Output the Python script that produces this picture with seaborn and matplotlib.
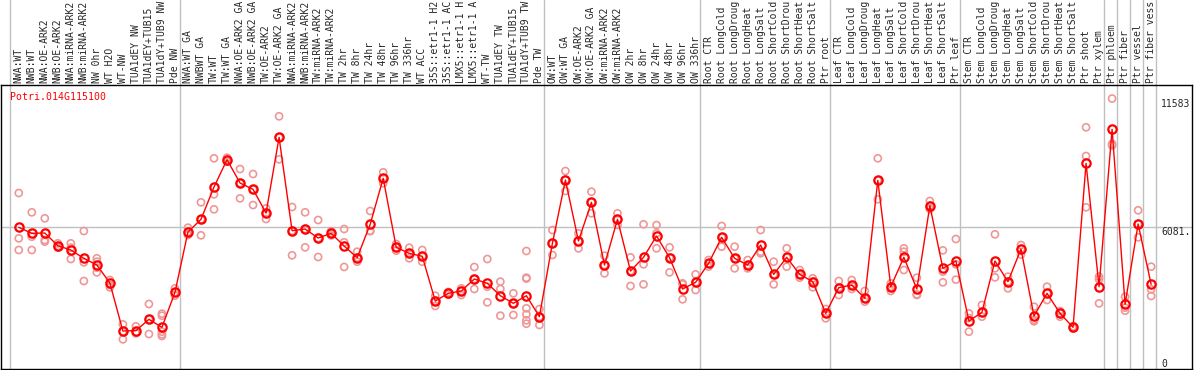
import matplotlib
matplotlib.use("Agg")
import matplotlib.pyplot as plt
import matplotlib.transforms as mtransforms
import seaborn as sns
import pandas as pd

# sample names, in plotting order
samples = [
    "NWA:WT", "NWB:WT", "NWA:OE-ARK2", "NWB:OE-ARK2", "NWA:miRNA-ARK2", "NWB:miRNA-ARK2",
    "NW 0hr", "WT H2O", "WT-NW", "TUA1dEY NW", "TUA1dEY+TUB15 NW", "TUA1dY+TUB9 NW", "Pde NW",
    "NWA:WT GA", "NWBWT GA", "TW:WT", "TW:WT GA", "NWA:OE-ARK2 GA", "NWB:OE-ARK2 GA",
    "TW:OE-ARK2", "TW:OE-ARK2 GA", "NWA:miRNA-ARK2", "NWB:miRNA-ARK2", "TW:miRNA-ARK2",
    "TW:miRNA-ARK2", "TW 2hr", "TW 8hr", "TW 24hr", "TW 48hr", "TW 96hr", "TW 336hr",
    "WT ACC", "35S::etr1-1 H2O", "35S::etr1-1 ACC", "LMX5::etr1-1 H2O", "LMX5::etr1-1 ACC",
    "WT-TW", "TUA1dEY TW", "TUA1dEY+TUB15 TW", "TUA1dY+TUB9 TW", "Pde TW",
    "OW:WT", "OW:WT GA", "OW:OE-ARK2", "OW:OE-ARK2 GA", "OW:miRNA-ARK2", "OW:miRNA-ARK2",
    "OW 2hr", "OW 8hr", "OW 24hr", "OW 48hr", "OW 96hr", "OW 336hr",
    "Root CTR", "Root LongCold", "Root LongDrought", "Root LongHeat", "Root LongSalt",
    "Root ShortCold", "Root ShortDrought", "Root ShortHeat", "Root ShortSalt", "Ptr root",
    "Leaf CTR", "Leaf LongCold", "Leaf LongDrought", "Leaf LongHeat", "Leaf LongSalt",
    "Leaf ShortCold", "Leaf ShortDrought", "Leaf ShortHeat", "Leaf ShortSalt", "Ptr leaf",
    "Stem CTR", "Stem LongCold", "Stem LongDrought", "Stem LongHeat", "Stem LongSalt",
    "Stem ShortCold", "Stem ShortDrought", "Stem ShortHeat", "Stem ShortSalt",
    "Ptr shoot", "Ptr xylem", "Ptr phloem", "Ptr fiber", "Ptr vessel", "Ptr fiber vessel",
]

# number of samples in each block (gray separators between them)
group_sizes = [13, 28, 12, 10, 10, 11, 1, 1, 1, 1]

gene = "Potri.014G115100"

# mean expression per sample
means = [
    6068, 5810, 5824, 5281, 5096, 4740, 4453, 3683, 1627, 1641, 2127, 1784, 3283,
    5866, 6409, 7793, 8964, 7965, 7693, 6680, 9920, 5923, 5995, 5609, 5810, 5267,
    4766, 6196, 8166, 5211, 4954, 4826, 2912, 3241, 3340, 3854, 3668, 3139, 2812,
    3139, 2241,
    5381, 8093, 5481, 7138, 4453, 6409, 4196, 4781, 5695, 4766, 3426, 3711,
    4525, 5638, 4740, 4453, 5310, 4053, 4781, 4053, 3740, 2384,
    3483, 3597, 3026, 8079, 3525, 4781, 3426, 6994, 4311, 4625,
    2055, 2426, 4625, 3740, 5138, 2269, 3241, 2384, 1784, 8808, 3525,
    10264, 2770, 6209, 3625,
]

# replicate values per sample
replicates = [
    [7536, 5597, 5096], [6710, 5666, 5096], [6453, 5524, 5452], [5381, 5196, 5266],
    [5381, 4710, 5196], [5909, 4568, 3768], [4740, 4596, 4339, 4139], [3811, 3597, 3497],
    [1913, 1598, 1270], [1827, 1569, 1527], [2783, 2127, 1499],
    [2369, 2283, 1598, 1485, 1413], [3454, 3283, 3140],
    [6052, 5866, 5738], [7138, 6409, 5724], [9022, 7480, 6838], [9050, 8964, 8880],
    [8564, 7965, 7308], [8350, 7693, 7022], [6881, 6680, 6423], [10820, 9920, 8979],
    [6937, 5923, 4868], [6710, 5995, 5210], [6380, 5609, 4796], [5900, 5810, 5720],
    [5995, 5425, 4368], [5023, 4766, 4595], [6766, 5922, 5900], [8423, 8166, 7952],
    [5353, 5211, 5066], [5194, 4954, 4740], [5096, 4826, 4595], [3139, 2912, 2700],
    [3300, 3241, 3180], [3454, 3340, 3169], [4368, 3854, 3426], [4710, 3525, 2855],
    [3740, 3426, 2283], [3241, 2812, 2312],
    [5053, 3911, 3870, 2599, 2342, 2085, 1941], [2569, 2241, 1884],
    [5952, 5381, 4882], [8478, 8093, 7622], [5810, 5481, 5167], [7593, 7138, 6667],
    [4853, 4453, 4096], [6667, 6409, 6166], [4781, 4196, 3554], [6196, 4483, 3625],
    [6166, 5810, 5167], [5210, 4766, 4139], [3668, 3626, 2984], [4053, 3711, 3383],
    [4667, 4525, 4382], [6123, 5638, 5239], [5239, 4740, 4311], [4667, 4453, 4311],
    [5952, 5024, 4954], [4595, 4053, 3625], [5167, 4781, 4382], [4239, 4053, 3911],
    [3883, 3740, 3497], [2569, 2384, 2170],
    [3768, 3483, 3169], [3811, 3597, 3426], [3340, 3026, 2883], [9022, 8079, 7266],
    [3668, 3525, 3340], [5167, 5023, 4239], [3911, 3198, 3169], [7194, 6994, 6850],
    [5081, 4168, 3711], [5567, 4482, 3825],
    [2384, 2180, 1598], [2740, 2426, 2241], [5767, 4311, 3925], [3954, 3740, 3454],
    [5310, 5138, 4900], [2669, 2100, 2040], [3525, 3241, 2955], [2484, 2384, 2241],
    [1830, 1784, 1740], [10350, 9121, 6924], [3954, 3841, 2812],
    [11583, 9640, 9570], [3096, 2625, 2497], [6796, 6209, 5638], [4382, 3411, 3126],
]

ymax = 11583 * 1.05
pos = [i + 0.65 for i in range(len(samples))]

rep_rows = []
for i, vals in enumerate(replicates):
    for v in vals:
        rep_rows.append({"pos": pos[i], "value": v})
df_rep = pd.DataFrame(rep_rows)
df_mean = pd.DataFrame({"pos": pos, "value": means})

sns.set_style("white")
plt.rcParams["font.family"] = ["DejaVu Sans Mono"]

fig = plt.figure(figsize=(11.94, 3.70), dpi=100)
# axes placed in pixels: left 1, right 1192, top 85, bottom 369
ax = fig.add_axes([1 / 1194, 1 / 370, 1191 / 1194, 284 / 370])

sns.scatterplot(data=df_rep, x="pos", y="value", ax=ax, marker="o", s=26,
                facecolor="none", edgecolor="#ef9797", linewidth=1.2, zorder=2)
sns.lineplot(data=df_mean, x="pos", y="value", ax=ax, color="red", linewidth=1,
             marker="o", markersize=6, markerfacecolor="none",
             markeredgecolor="red", markeredgewidth=1.6, zorder=3)

ax.set_xlim(-0.7145, 90.79)
ax.set_ylim(0, ymax)

# separators between blocks, running up through the label area
edge = 0
ax.axvline(edge, ymin=0, ymax=1.3, color="#c0c0c0", lw=1, clip_on=False, zorder=1)
for g in group_sizes:
    edge += g
    ax.axvline(edge, ymin=0, ymax=1.3, color="#c0c0c0", lw=1, clip_on=False, zorder=1)
ax.axhline(ymax / 2, color="#c0c0c0", lw=1, zorder=1)

# sample names on top (the original shows only the first 14 characters)
ax.xaxis.tick_top()
ax.set_xticks(pos)
ax.set_xticklabels([s[:14].rstrip() for s in samples], rotation=90, fontsize=7.0)
ax.tick_params(axis="x", length=0, pad=1.5)
ax.set_yticks([])
ax.set_xlabel("")
ax.set_ylabel("")

for side in ["left", "top", "bottom", "right"]:
    ax.spines[side].set_color("black")
    ax.spines[side].set_linewidth(1)

ax.text(0.0076, 0.958, gene, transform=ax.transAxes, color="red",
        fontsize=7.1, va="center", ha="left")

# value labels at the right
tr = mtransforms.blended_transform_factory(ax.transAxes, ax.transData)
ax.text(0.974, 11583, "11583", transform=tr, fontsize=7.0, va="top", ha="left")
ax.text(0.974, ymax / 2, "6081.", transform=tr, fontsize=7.0, va="top", ha="left")
ax.text(0.974, 0, "0", transform=tr, fontsize=7.0, va="bottom", ha="left")

fig.savefig("out.png", dpi=100)
